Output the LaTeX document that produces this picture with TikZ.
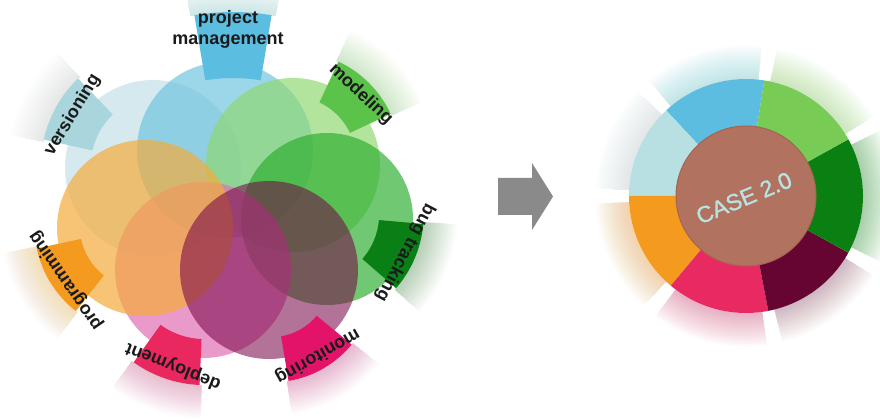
\documentclass[tikz,border=0pt]{standalone}
\usepackage{fontspec}
\setmainfont{Liberation Sans}
\newfontfamily\casefont[FakeBold=1.2]{Liberation Sans}
\definecolor{txt}{HTML}{1A1A1A}
\definecolor{cVers}{HTML}{C4E0E6}
\definecolor{cPM}{HTML}{6EC4E0}
\definecolor{cMod}{HTML}{8ED870}
\definecolor{cBug}{HTML}{2EAE30}
\definecolor{cOra}{HTML}{F4AC3C}
\definecolor{cPink}{HTML}{E16BB2}
\definecolor{cMon}{HTML}{750045}
\definecolor{wVers}{HTML}{A9D6DC}
\definecolor{wPM}{HTML}{5BBDE0}
\definecolor{wMod}{HTML}{5CC34A}
\definecolor{wBug}{HTML}{0A7F16}
\definecolor{wMon}{HTML}{E4136A}
\definecolor{wDep}{HTML}{E8285F}
\definecolor{wProg}{HTML}{F39A1F}
\definecolor{dBlue}{HTML}{5DBDE0}
\definecolor{dPale}{HTML}{B8DFE2}
\definecolor{dOra}{HTML}{F39A1F}
\definecolor{dPink}{HTML}{E92A62}
\definecolor{dMar}{HTML}{670532}
\definecolor{dDG}{HTML}{0B8012}
\definecolor{dLG}{HTML}{78CC55}
\definecolor{dCore}{HTML}{B27260}
\definecolor{dCoreEdge}{HTML}{A3654F}
\definecolor{dText}{HTML}{B8E3E3}
\definecolor{arrowgray}{HTML}{8A8A8A}
% annular sector: style, cx, cy, a1, a2, r1, r2
\newcommand{\sectorfill}[7]{%
  \pgfmathsetmacro{\sa}{#4}\pgfmathsetmacro{\sb}{#5}%
  \fill[#1] ([shift={(\sa:#6pt)}]#2,#3) arc[start angle=\sa, end angle=\sb, radius=#6pt]
    -- ([shift={(\sb:#7pt)}]#2,#3) arc[start angle=\sb, end angle=\sa, radius=#7pt] -- cycle;}
% pie slice: style, cx, cy, a1, a2, r
\newcommand{\piefill}[6]{%
  \pgfmathsetmacro{\sa}{#4}\pgfmathsetmacro{\sb}{#5}%
  \fill[#1] (#2,#3) -- ([shift={(\sa:#6pt)}]#2,#3) arc[start angle=\sa, end angle=\sb, radius=#6pt] -- cycle;}
% soft glow beyond radius: color, cx, cy, a1, a2, r, opacity per layer
\newcommand{\glow}[7]{%
  \foreach \k in {1,...,24}{%
    \pgfmathsetmacro{\rr}{#6+1.4*\k}%
    \sectorfill{#1,opacity=#7}{#2}{#3}{#4}{#5}{#6}{\rr}}}
% wedge with glow: color, cx, cy, theta, h, r1, r2
\newcommand{\labelwedge}[7]{%
  \glow{#1}{#2}{#3}{#4-#5-1}{#4+#5+1}{#7}{0.013}%
  \sectorfill{#1}{#2}{#3}{#4-#5}{#4+#5}{#6}{#7}}
\begin{document}
\begin{tikzpicture}[x=1pt,y=1pt,
  lbl/.style={font=\bfseries\fontsize{18}{21}\selectfont, text=txt, inner sep=0pt},
  bub/.style={opacity=0.68}]
\useasboundingbox (0,0) rectangle (880,418);
\fill[white] (0,0) rectangle (880,418);

% ---------- left: overlapping circles ----------
\fill[cVers, bub] (153,250) circle[radius=88pt];
\fill[cPM, bub] (225,268) circle[radius=88pt];
\fill[cMod, bub] (293,253) circle[radius=87pt];
\fill[cBug, bub] (327,199) circle[radius=86pt];
\fill[cPink, bub] (203,148) circle[radius=88pt];
\fill[cOra, opacity=0.7] (145,190) circle[radius=88pt];
\fill[cMon, opacity=0.55] (269,148) circle[radius=89pt];

% ---------- label wedges ----------
\labelwedge{wPM}{233}{172}{90}{9.5}{168}{234}
\labelwedge{wMod}{292.8}{258.5}{45}{20}{63}{108}
\labelwedge{wBug}{310.8}{203.9}{-23}{18}{68.4}{113}
\labelwedge{wMon}{271.4}{139.6}{-60}{20.5}{58.7}{104}
\labelwedge{wDep}{204.7}{154.9}{-109}{16.6}{76}{122}
\labelwedge{wProg}{142.8}{192.3}{212}{19.9}{63.2}{108.5}
\labelwedge{wVers}{162.8}{251.8}{150.7}{16.7}{72}{122}

% ---------- labels ----------
\node[lbl, align=center] (tPM) at (228,389) {project\\management};
\node[lbl, rotate=-43.3] (tMod) at (360.8,323.8) {modeling};
\node[lbl, rotate=-117.8] (tBug) at (405,165.5) {bug tracking};
\node[lbl, rotate=-150.4] (tMon) at (317.5,62.2) {monitoring};
\node[lbl, rotate=158.4] (tDep) at (173.3,52.2) {deployment};
\node[lbl, rotate=124.8] (tProg) at (65.8,137.2) {programming};
\node[lbl, rotate=58.5] (tVers) at (72.5,303) {versioning};

% ---------- arrow ----------
\fill[arrowgray] (498,203) -- (532,203) -- (532,188) -- (553,221.5)
  -- (532,255) -- (532,240) -- (498,240) -- cycle;

% ---------- right: donut ----------
\glow{dBlue}{746}{222}{84}{130}{117}{0.016}
\glow{dPale}{746}{222}{136}{177}{117}{0.016}
\glow{dOra}{746}{222}{183}{227}{117}{0.016}
\glow{dPink}{746}{222}{233}{278}{117}{0.016}
\glow{dMar}{746}{222}{284}{328}{117}{0.012}
\glow{dDG}{746}{222}{334}{386}{117}{0.016}
\glow{dLG}{746}{222}{392}{438}{117}{0.016}
\piefill{dBlue}{746}{222}{81}{133}{117}
\piefill{dPale}{746}{222}{133}{180}{117}
\piefill{dOra}{746}{222}{180}{230}{117}
\piefill{dPink}{746}{222}{230}{281}{117}
\piefill{dMar}{746}{222}{281}{331}{117}
\piefill{dDG}{746}{222}{331}{389}{117}
\piefill{dLG}{746}{222}{389}{441}{117}
\node[circle, fill=dCore, draw=dCoreEdge, line width=1pt, minimum size=140pt, inner sep=0pt] (core) at (746,222) {};
\node[font=\casefont\fontsize{23}{25}\selectfont, text=dText, rotate=22.5, inner sep=0pt] (case) at (744,220) {CASE 2.0};
\end{tikzpicture}
\end{document}
